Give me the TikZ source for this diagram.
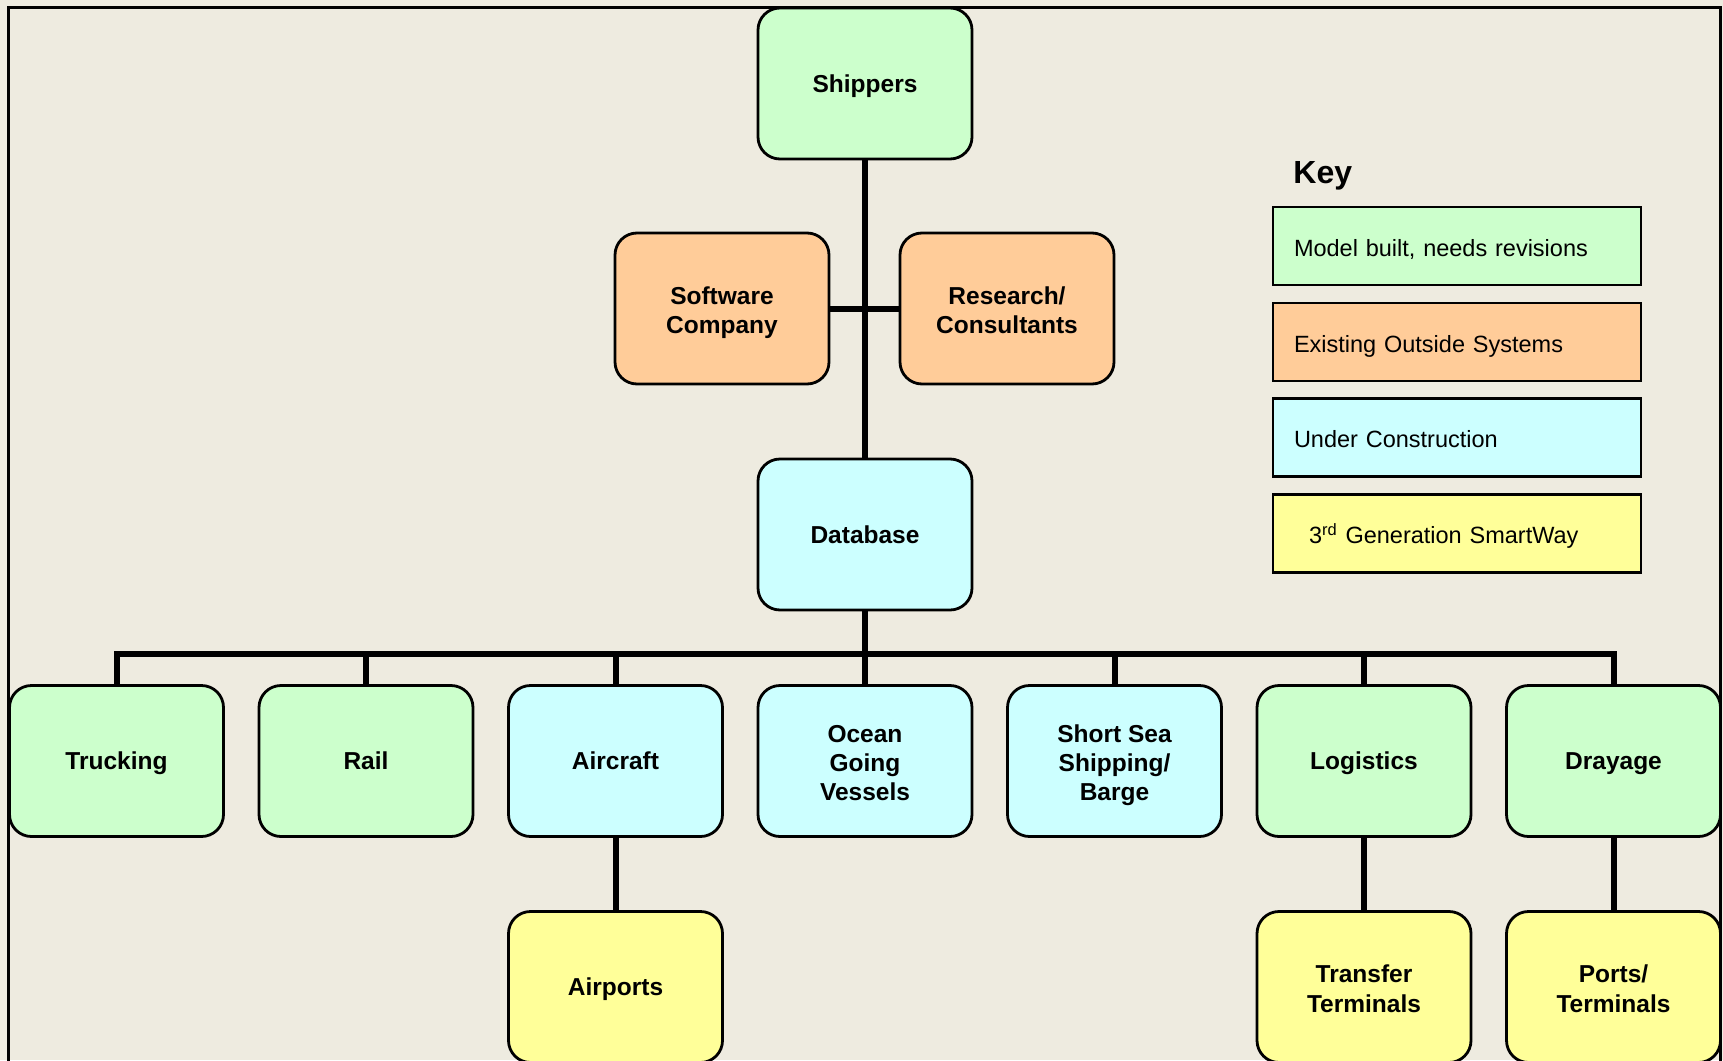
\documentclass[tikz,border=0pt]{standalone}
\usepackage{fontspec}
\setmainfont{Liberation Sans}
\definecolor{bg}{HTML}{EEEBE0}
\definecolor{cgreen}{HTML}{CCFFCC}
\definecolor{corange}{HTML}{FFCC99}
\definecolor{ccyan}{HTML}{CCFFFF}
\definecolor{cyellow}{HTML}{FFFF99}
\newcommand\mytop{\rule{0pt}{13.2pt}}
\begin{document}
\begin{tikzpicture}[x=0.5pt,y=-0.5pt,
  boxbase/.style={draw, line width=1.4pt, rounded corners=11pt, minimum width=107pt, minimum height=75.5pt,
    align=center, inner sep=0pt, font=\bfseries\fontsize{12.25}{14.6}\selectfont,
    execute at end node=\rule[-2.7pt]{0pt}{1pt}},
  box/.style={boxbase, execute at begin node=\rule{0pt}{11.5pt}},
  mbox/.style={boxbase},
  conn/.style={line width=3pt},
  keybox/.style={draw, line width=1.2pt, minimum width=184pt, minimum height=39pt, inner xsep=10.5pt,
    text width=163pt, align=left, font=\fontsize{11.75}{14}\selectfont,
    execute at begin node=\rule{0pt}{13.1pt}, execute at end node=\rule[-2.7pt]{0pt}{1pt}}]
\useasboundingbox (0,0) rectangle (1723,1060);
\clip (0,0) rectangle (1723,1060);
\fill[bg] (0,0) rectangle (1723,1060);
\draw[line width=1.5pt] (8,7) rectangle (1720,1120);

\node[box, fill=cgreen] (shippers) at (865,83.5) {Shippers};
\node[mbox, fill=corange] (software) at (722,308.5) {\mytop Software\\Company};
\node[mbox, fill=corange] (research) at (1007,308.5) {\mytop Research/\\Consultants};
\node[box, fill=ccyan] (database) at (865,534.5) {Database};

\node[box, fill=cgreen] (trucking) at (116.5,761) {Trucking};
\node[box, fill=cgreen] (rail) at (366,761) {Rail};
\node[box, fill=ccyan] (aircraft) at (615.5,761) {Aircraft};
\node[mbox, fill=ccyan] (ocean) at (865,761) {\mytop Ocean\\Going\\Vessels};
\node[mbox, fill=ccyan] (shortsea) at (1114.5,761) {\mytop Short Sea\\Shipping/\\Barge};
\node[box, fill=cgreen] (logistics) at (1364,761) {Logistics};
\node[box, fill=cgreen] (drayage) at (1613.5,761) {Drayage};

\node[box, fill=cyellow] (airports) at (615.5,987) {Airports};
\node[mbox, fill=cyellow] (transfer) at (1364,987) {\mytop Transfer\\Terminals};
\node[mbox, fill=cyellow] (ports) at (1613.5,987) {\mytop Ports/\\Terminals};

\coordinate (bus) at (865,654);
\draw[conn] (shippers.south) -- (database.north);
\draw[conn] (software.east) -- (research.west);
\draw[conn] (database.south) -- (bus);
\draw[conn] (trucking.north) -- (trucking.north |- bus) -- (drayage.north |- bus) -- (drayage.north);
\foreach \n in {rail,aircraft,ocean,shortsea,logistics}
  \draw[conn] (\n.north) -- (\n.north |- bus);
\draw[conn] (aircraft.south) -- (airports.north);
\draw[conn] (logistics.south) -- (transfer.north);
\draw[conn] (drayage.south) -- (ports.north);

\node[anchor=base west, inner sep=0pt, font=\bfseries\fontsize{16}{19}\selectfont] (keytitle) at (1293,183) {Key};
\node[keybox, fill=cgreen] (k1) at (1457,246) {Model built, needs revisions};
\node[keybox, fill=corange] (k2) at (1457,342) {Existing Outside Systems};
\node[keybox, fill=ccyan] (k3) at (1457,437.5) {Under Construction};
\node[keybox, fill=cyellow] (k4) at (1457,533.5) {\hspace*{7.5pt}3\textsuperscript{rd} Generation SmartWay};
\end{tikzpicture}
\end{document}
